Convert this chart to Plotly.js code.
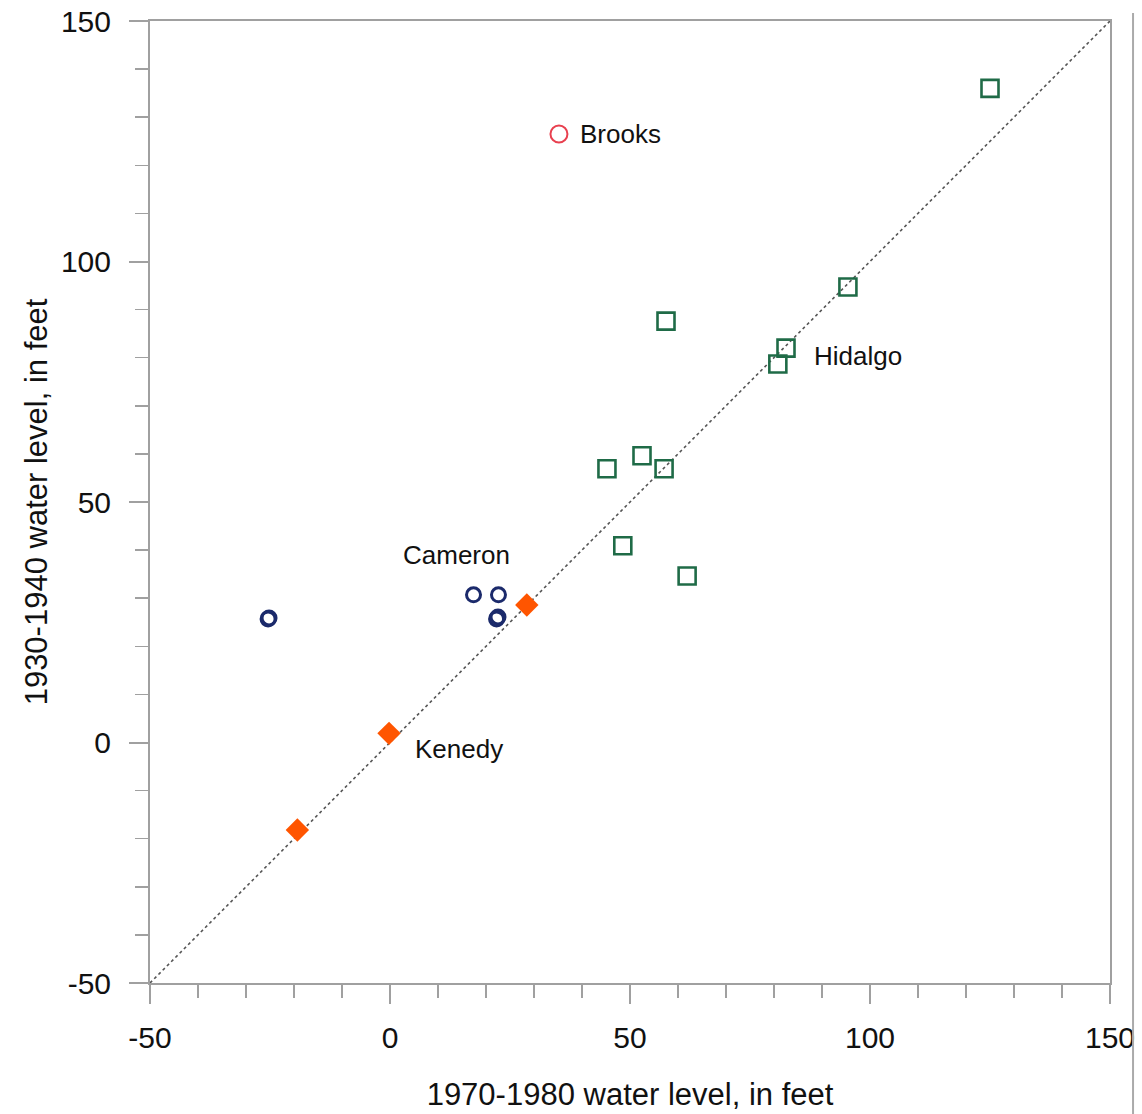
<!DOCTYPE html>
<html>
<head>
<meta charset="utf-8">
<script src="https://cdn.plot.ly/plotly-3.0.1.min.js"></script>
<style>
  html, body { margin: 0; padding: 0; background: #fff; }
  #chart { width: 1142px; height: 1114px; }
</style>
</head>
<body>
<div id="chart"></div>
<script>
// Hidalgo county wells (green open squares)
const hidalgoX = [125, 95.4, 57.5, 82.5, 80.8, 52.5, 45.2, 57.1, 48.5, 61.9];
const hidalgoY = [136, 94.7, 87.6, 82, 78.7, 59.6, 56.9, 56.9, 40.9, 34.6];
// Cameron county wells (navy open circles)
const cameronX = [-25.4, -25.2, 17.4, 22.6, 22.2, 22.5];
const cameronY = [25.7, 25.9, 30.7, 30.7, 25.7, 26.1];
// Brooks county well (red open circle)
const brooksX = [35.2];
const brooksY = [126.5];
// Kenedy county wells (orange diamonds)
const kenedyX = [28.5, -0.2, -19.3];
const kenedyY = [28.6, 1.9, -18.2];
// 1:1 reference line
const lineX = [-50, 150];
const lineY = [-50, 150];
// County labels
const labelText = ['Brooks', 'Hidalgo', 'Cameron', 'Kenedy'];
const labelX = [39.2, 87.9, 2.2, 4.8];
const labelY = [126.5, 80.4, 39, -1.4];
// Axis ticks
const tickVals = [-50, 0, 50, 100, 150];
const tickText = ['-50', '0', '50', '100', '150'];

const font = 'Arial, "Liberation Sans", Helvetica, sans-serif';

const traces = [
  { x: lineX, y: lineY, mode: 'lines', line: { color: '#555', width: 1.6, dash: 'dot' }, hoverinfo: 'skip' },
  { x: hidalgoX, y: hidalgoY, mode: 'markers', name: 'Hidalgo',
    marker: { symbol: 'square-open', size: 17, color: '#1f6b47', line: { width: 2.6, color: '#1f6b47' } } },
  { x: cameronX, y: cameronY, mode: 'markers', name: 'Cameron',
    marker: { symbol: 'circle-open', size: 14, color: '#1b2a6b', line: { width: 3, color: '#1b2a6b' } } },
  { x: brooksX, y: brooksY, mode: 'markers', name: 'Brooks',
    marker: { symbol: 'circle-open', size: 17, color: '#e8404f', line: { width: 2, color: '#e8404f' } } },
  { x: kenedyX, y: kenedyY, mode: 'markers', name: 'Kenedy',
    marker: { symbol: 'diamond', size: 18, color: '#ff5500', line: { width: 0 } } }
];

const axisCommon = {
  range: [-50, 150],
  tickvals: tickVals,
  ticktext: tickText,
  ticks: 'outside',
  ticklen: 19,
  tickwidth: 2,
  tickcolor: '#a0a0a0',
  showline: true,
  linecolor: '#a0a0a0',
  linewidth: 2,
  mirror: true,
  showgrid: false,
  zeroline: false,
  automargin: false,
  tickfont: { family: font, size: 30, color: '#111' },
  minor: { dtick: 10, tick0: -50, ticks: 'outside', ticklen: 13, tickwidth: 1.5, tickcolor: '#a0a0a0', showgrid: false }
};

const layout = {
  width: 1142,
  height: 1114,
  margin: { l: 150, r: 32, t: 21, b: 131 },
  paper_bgcolor: '#fff',
  plot_bgcolor: '#fff',
  showlegend: false,
  font: { family: font, color: '#111' },
  xaxis: Object.assign({}, axisCommon, {
    ticklabelstandoff: 8,
    title: { text: '1970-1980 water level, in feet', font: { family: font, size: 31, color: '#111' }, standoff: 30 }
  }),
  yaxis: Object.assign({}, axisCommon, {
    ticklabelstandoff: 12,
    title: { text: '1930-1940 water level, in feet', font: { family: font, size: 31, color: '#111' }, standoff: 4 }
  }),
  annotations: labelText.map((t, i) => ({
    x: labelX[i], y: labelY[i], xref: 'x', yref: 'y', text: t, showarrow: false,
    xanchor: 'left', yanchor: 'middle', font: { family: font, size: 26, color: '#111' }
  })),
  shapes: [
    { type: 'line', xref: 'paper', yref: 'paper', x0: 1.024, x1: 1.024, y0: 1.0083, y1: -0.14,
      line: { color: '#aaa', width: 2 } }
  ]
};

Plotly.newPlot('chart', traces, layout, { displayModeBar: false, staticPlot: true });
</script>
</body>
</html>
